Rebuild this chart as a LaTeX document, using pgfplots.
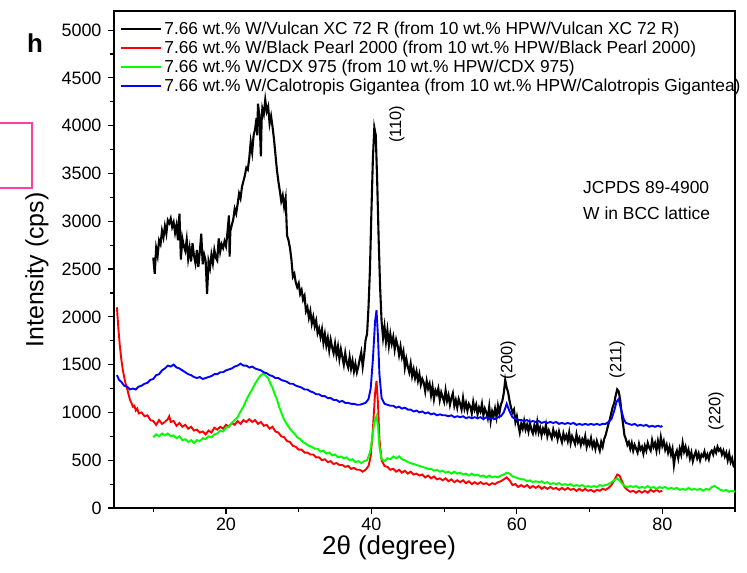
\documentclass[border=0pt]{standalone}
\usepackage{pgfplots}
\pgfplotsset{compat=1.18}
\usepackage{fontspec}
\setmainfont{Liberation Sans}
\definecolor{pinkbox}{RGB}{255,64,160}
\definecolor{xgreen}{RGB}{0,255,0}

\pgfplotstableread{
x y
10.0 2620
10.2 2450
10.4 2720
10.6 2640
10.8 2800
11.0 2760
11.2 2900
11.4 2830
11.6 2950
11.8 2870
12.0 3010
12.2 2980
12.4 3030
12.6 2940
12.8 2990
13.0 2880
13.2 2960
13.4 2800
13.6 3080
13.8 2600
14.0 2820
14.2 2740
14.4 2690
14.6 2810
14.8 2610
15.0 2720
15.2 2580
15.4 2770
15.6 2640
15.8 2560
16.0 2700
16.2 2520
16.4 2680
16.6 2870
16.8 2550
17.0 2650
17.2 2590
17.4 2240
17.6 2580
17.8 2510
18.0 2650
18.2 2560
18.4 2700
18.6 2620
18.8 2590
19.0 2820
19.2 2680
19.4 2760
19.6 2720
19.8 2790
20.0 2740
20.2 2880
20.4 3060
20.5 2630
20.6 2900
20.8 2960
21.0 3020
21.2 3130
21.4 3080
21.6 3180
21.8 3290
22.0 3240
22.2 3360
22.4 3420
22.6 3480
22.8 3560
23.0 3540
23.2 3660
23.4 3830
23.6 3720
23.8 3900
24.0 3960
24.2 4080
24.3 3900
24.4 4230
24.6 4100
24.8 3680
24.9 4050
25.0 4180
25.2 4120
25.4 4270
25.6 4150
25.8 4200
26.0 4020
26.2 4100
26.4 3990
26.6 3860
26.8 3700
27.0 3540
27.2 3420
27.4 3320
27.6 3210
27.8 3270
28.0 3150
28.2 3240
28.4 2850
28.6 2800
28.8 2720
29.0 2600
29.2 2420
29.4 2450
29.6 2360
29.8 2310
30.0 2350
30.2 2240
30.4 2280
30.6 2180
30.8 2220
31.0 2060
31.2 2100
31.4 1990
31.6 2060
31.8 1930
32.0 2000
32.2 1900
32.4 1960
32.6 1830
32.8 1880
33.0 1790
33.2 1870
33.4 1730
33.6 1820
33.8 1700
34.0 1780
34.2 1650
34.4 1760
34.6 1680
34.8 1620
35.0 1720
35.2 1600
35.4 1690
35.6 1560
35.8 1660
36.0 1580
36.2 1500
36.4 1620
36.6 1520
36.8 1470
37.0 1580
37.2 1460
37.4 1540
37.6 1430
37.8 1510
38.0 1420
38.2 1480
38.4 1560
38.6 1630
38.8 1480
39.0 1600
39.2 1760
39.4 1820
39.6 2100
39.8 2500
40.0 3100
40.2 3650
40.4 3980
40.6 3900
40.8 3400
41.0 2800
41.2 2300
41.4 1950
41.6 1780
41.8 1900
42.0 1740
42.2 1860
42.4 1700
42.6 1820
42.8 1720
43.0 1790
43.2 1660
43.4 1760
43.6 1700
43.8 1600
44.0 1690
44.2 1580
44.4 1640
44.6 1470
44.8 1560
45.0 1480
45.2 1420
45.4 1510
45.6 1380
45.8 1450
46.0 1360
46.2 1430
46.4 1330
46.6 1400
46.8 1290
47.0 1350
47.2 1310
47.4 1220
47.6 1330
47.8 1250
48.0 1300
48.2 1180
48.4 1270
48.6 1140
48.8 1230
49.0 1190
49.2 1250
49.4 1130
49.6 1210
49.8 1160
50.0 1110
50.2 1230
50.4 1120
50.6 1180
50.8 1080
51.0 1150
51.2 1200
51.4 1070
51.6 1130
51.8 1050
52.0 1140
52.2 1090
52.4 1030
52.6 1150
52.8 1040
53.0 1100
53.2 1020
53.4 1090
53.6 1060
53.8 990
54.0 1110
54.2 1030
54.4 1080
54.6 980
54.8 1050
55.0 1010
55.2 1090
55.4 970
55.6 1040
55.8 1000
56.0 940
56.2 1060
56.4 910
56.6 1010
56.8 960
57.0 1040
57.2 950
57.4 1070
57.6 990
57.8 1080
58.0 1120
58.2 1200
58.4 1340
58.6 1260
58.8 1210
59.0 1120
59.2 1050
59.4 1000
59.6 1030
59.8 900
60.0 960
60.2 870
60.4 790
60.6 880
60.8 830
61.0 910
61.2 820
61.4 870
61.6 800
61.8 890
62.0 820
62.2 780
62.4 860
62.6 800
62.8 900
63.0 790
63.2 840
63.4 760
63.6 830
63.8 790
64.0 870
64.2 750
64.4 810
64.6 770
64.8 730
65.0 820
65.2 760
65.4 790
65.6 720
65.8 800
66.0 740
66.2 690
66.4 780
66.6 720
66.8 760
67.0 700
67.2 790
67.4 680
67.6 750
67.8 710
68.0 670
68.2 770
68.4 690
68.6 730
68.8 660
69.0 720
69.2 680
69.4 750
69.6 640
69.8 700
70.0 660
70.2 730
70.4 640
70.6 690
70.8 620
71.0 700
71.2 650
71.4 600
71.6 690
71.8 640
72.0 720
72.2 760
72.4 820
72.6 880
72.8 930
73.0 1000
73.2 1060
73.4 1100
73.6 1180
73.8 1240
74.0 1220
74.2 1140
74.4 1000
74.6 880
74.8 760
75.0 720
75.2 660
75.4 690
75.6 620
75.8 680
76.0 600
76.2 660
76.4 620
76.6 580
76.8 670
77.0 610
77.2 640
77.4 570
77.6 650
77.8 600
78.0 680
78.2 630
78.4 600
78.6 710
78.8 640
79.0 680
79.2 600
79.4 700
79.6 620
79.8 740
80.0 650
80.2 700
80.4 610
80.6 660
80.8 580
81.0 640
81.2 560
81.4 620
81.6 450
81.8 560
82.0 600
82.2 520
82.4 620
82.6 560
82.8 680
83.0 590
83.2 640
83.4 560
83.6 610
83.8 520
84.0 580
84.2 490
84.4 550
84.6 590
84.8 520
85.0 570
85.2 500
85.4 560
85.6 540
85.8 590
86.0 520
86.2 560
86.4 510
86.6 580
86.8 600
87.0 560
87.2 620
87.4 580
87.6 640
87.8 600
88.0 620
88.2 560
88.4 600
88.6 540
88.8 580
89.0 500
89.2 570
89.4 480
89.6 520
89.8 440
90.0 420
}\vulcan

\pgfplotstableread{
x y
5.0 2100
5.2 1880
5.4 1700
5.6 1560
5.8 1450
6.0 1370
6.2 1300
6.4 1250
6.6 1190
6.8 1130
7.0 1100
7.2 1060
7.4 1070
7.6 1020
7.8 1040
8.0 990
8.4 1000
8.8 960
9.2 970
9.6 920
10.0 910
10.4 870
10.8 920
11.2 880
11.6 900
12.0 930
12.2 960
12.4 900
12.8 910
13.2 860
13.6 890
14.0 850
14.4 870
14.8 830
15.2 850
15.6 810
16.0 820
16.4 790
16.8 800
17.2 770
17.6 810
18.0 790
18.4 840
18.8 820
19.2 850
19.6 830
20.0 870
20.4 850
20.8 890
21.2 870
21.6 910
22.0 880
22.4 920
22.8 900
23.2 930
23.6 900
24.0 920
24.4 880
24.8 900
25.2 860
25.6 870
26.0 830
26.4 850
26.8 800
27.2 790
27.6 750
28.0 740
28.4 700
28.8 690
29.2 650
29.6 640
30.0 610
30.4 610
30.8 580
31.2 580
31.6 560
32.0 560
32.4 530
32.8 530
33.2 500
33.6 510
34.0 480
34.4 490
34.8 460
35.2 470
35.6 450
36.0 450
36.4 430
36.8 440
37.2 410
37.6 420
38.0 400
38.4 400
38.8 380
39.2 400
39.6 440
39.9 540
40.2 820
40.5 1200
40.7 1330
40.9 1100
41.1 720
41.4 500
41.8 440
42.2 430
42.6 400
43.0 410
43.4 380
43.8 400
44.2 370
44.6 390
45.0 360
45.4 380
45.8 350
46.2 360
46.6 340
47.0 350
47.4 320
47.8 340
48.2 310
48.6 330
49.0 300
49.4 310
49.8 290
50.2 310
50.6 280
51.0 300
51.4 270
51.8 290
52.2 270
52.6 290
53.0 260
53.4 280
53.8 250
54.2 270
54.6 250
55.0 270
55.4 250
55.8 260
56.2 240
56.6 260
57.0 250
57.4 270
57.8 280
58.2 300
58.6 320
59.0 290
59.4 240
59.8 250
60.2 220
60.6 240
61.0 220
61.4 240
61.8 210
62.2 230
62.6 210
63.0 230
63.4 200
63.8 220
64.2 200
64.6 220
65.0 200
65.4 210
65.8 190
66.2 210
66.6 190
67.0 210
67.4 190
67.8 200
68.2 180
68.6 200
69.0 180
69.4 200
69.8 180
70.2 190
70.6 170
71.0 190
71.4 180
71.8 200
72.2 190
72.6 210
73.0 240
73.4 290
73.8 350
74.1 340
74.4 290
74.8 220
75.2 190
75.6 170
76.0 180
76.4 160
76.8 180
77.2 160
77.6 180
78.0 160
78.4 190
78.8 170
79.2 190
79.6 170
80.0 180
}\pearl

\pgfplotstableread{
x y
10.0 740
10.4 770
10.8 750
11.2 780
11.6 760
12.0 780
12.4 750
12.8 760
13.2 730
13.6 750
14.0 710
14.4 720
14.8 690
15.2 710
15.6 680
16.0 710
16.4 700
16.8 730
17.2 720
17.6 750
18.0 740
18.4 770
18.8 780
19.2 810
19.6 800
20.0 840
20.4 850
20.8 890
21.2 920
21.6 950
22.0 1010
22.4 1060
22.8 1130
23.2 1190
23.6 1240
24.0 1300
24.4 1350
24.8 1390
25.2 1410
25.5 1380
25.8 1360
26.1 1300
26.4 1260
26.7 1190
27.0 1140
27.3 1060
27.6 1000
27.9 940
28.2 900
28.6 850
29.0 810
29.4 780
29.8 740
30.2 720
30.6 690
31.0 670
31.4 650
31.8 640
32.2 620
32.6 620
33.0 590
33.4 600
33.8 570
34.2 580
34.6 550
35.0 560
35.4 530
35.8 540
36.2 520
36.6 530
37.0 500
37.4 510
37.8 480
38.2 490
38.6 470
39.0 490
39.4 500
39.8 580
40.1 720
40.4 900
40.7 960
40.9 860
41.1 640
41.4 510
41.8 490
42.2 520
42.6 510
43.0 540
43.4 520
43.8 540
44.2 510
44.6 500
45.0 480
45.4 470
45.8 460
46.2 450
46.6 440
47.0 430
47.4 420
47.8 410
48.2 410
48.6 390
49.0 400
49.4 380
49.8 390
50.2 370
50.6 380
51.0 360
51.4 380
51.8 360
52.2 370
52.6 350
53.0 360
53.4 340
53.8 360
54.2 340
54.6 350
55.0 330
55.4 340
55.8 320
56.2 340
56.6 320
57.0 330
57.4 320
57.8 340
58.2 350
58.6 370
59.0 360
59.4 330
59.8 320
60.2 310
60.6 300
61.0 300
61.4 280
61.8 290
62.2 270
62.6 280
63.0 270
63.4 280
63.8 260
64.2 270
64.6 250
65.0 260
65.4 250
65.8 260
66.2 240
66.6 250
67.0 240
67.4 250
67.8 230
68.2 240
68.6 230
69.0 240
69.4 220
69.8 230
70.2 220
70.6 230
71.0 220
71.4 240
71.8 230
72.2 240
72.6 250
73.0 270
73.4 290
73.8 310
74.1 290
74.4 260
74.8 230
75.2 220
75.6 230
76.0 220
76.4 230
76.8 210
77.2 220
77.6 210
78.0 230
78.4 210
78.8 220
79.2 200
79.6 220
80.0 210
80.4 220
80.8 200
81.2 210
81.6 200
82.0 210
82.4 190
82.8 200
83.2 190
83.6 210
84.0 190
84.4 200
84.8 190
85.2 200
85.6 180
86.0 200
86.4 190
86.8 220
87.2 230
87.6 210
88.0 190
88.4 180
88.8 190
89.2 170
89.6 180
90.0 170
}\cdx

\pgfplotstableread{
x y
5.0 1390
5.3 1340
5.6 1320
6.0 1280
6.4 1270
6.8 1240
7.2 1250
7.6 1240
8.0 1270
8.4 1280
8.8 1300
9.2 1310
9.6 1340
10.0 1350
10.4 1390
10.8 1400
11.2 1440
11.6 1460
12.0 1490
12.4 1480
12.8 1500
13.2 1470
13.6 1460
14.0 1440
14.4 1420
14.8 1400
15.2 1390
15.6 1370
16.0 1360
16.4 1370
16.8 1350
17.2 1360
17.6 1370
18.0 1380
18.4 1400
18.8 1400
19.2 1420
19.6 1420
20.0 1440
20.4 1450
20.8 1460
21.2 1480
21.6 1490
22.0 1510
22.4 1490
22.8 1490
23.2 1470
23.6 1480
24.0 1460
24.4 1450
24.8 1440
25.2 1420
25.6 1410
26.0 1390
26.4 1380
26.8 1360
27.2 1360
27.6 1340
28.0 1330
28.4 1320
28.8 1300
29.2 1300
29.6 1280
30.0 1270
30.4 1260
30.8 1240
31.2 1240
31.6 1220
32.0 1210
32.4 1190
32.8 1190
33.2 1170
33.6 1170
34.0 1150
34.4 1150
34.8 1130
35.2 1130
35.6 1110
36.0 1120
36.4 1100
36.8 1100
37.2 1090
37.6 1090
38.0 1080
38.4 1080
38.8 1090
39.2 1100
39.6 1140
39.9 1250
40.2 1550
40.5 1950
40.7 2070
40.9 1800
41.1 1400
41.4 1150
41.8 1090
42.2 1080
42.6 1070
43.0 1070
43.4 1050
43.8 1060
44.2 1040
44.6 1050
45.0 1030
45.4 1030
45.8 1010
46.2 1020
46.6 1000
47.0 1010
47.4 990
47.8 1000
48.2 980
48.6 990
49.0 970
49.4 980
49.8 970
50.2 970
50.6 960
51.0 970
51.4 950
51.8 960
52.2 950
52.6 960
53.0 940
53.4 950
53.8 940
54.2 950
54.6 940
55.0 950
55.4 930
55.8 950
56.2 930
56.6 940
57.0 930
57.4 950
57.8 960
58.2 1000
58.6 1090
59.0 1010
59.4 950
59.8 930
60.2 920
60.6 920
61.0 910
61.4 920
61.8 900
62.2 910
62.6 900
63.0 910
63.4 890
63.8 900
64.2 890
64.6 900
65.0 890
65.4 900
65.8 880
66.2 890
66.6 880
67.0 890
67.4 880
67.8 890
68.2 870
68.6 880
69.0 870
69.4 880
69.8 870
70.2 880
70.6 870
71.0 880
71.4 870
71.8 880
72.2 880
72.6 900
73.0 930
73.4 1020
73.7 1110
74.0 1140
74.3 1040
74.7 930
75.0 890
75.4 880
75.8 870
76.2 880
76.6 860
77.0 870
77.4 860
77.8 870
78.2 850
78.6 860
79.0 850
79.4 860
79.8 850
80.0 860
}\calo

\begin{document}
\begin{tikzpicture}
\useasboundingbox (0,0) rectangle (747bp,573bp);
\node[font=\fontsize{26}{30}\selectfont\bfseries] at (35bp,530bp) {h};
\draw[pinkbox, line width=1.5bp] (0,450bp) -- (32bp,450bp) -- (32bp,385bp) -- (0,385bp);
\begin{axis}[
  at={(114bp,65bp)}, anchor=south west,
  width=621bp, height=497bp, scale only axis,
  xmin=4.6, xmax=90, ymin=0, ymax=5200,
  xtick={20,40,60,80}, minor xtick={10,30,50,70,90},
  ytick={0,500,...,5000}, minor ytick={250,750,...,4750},
  tick pos=left, tick align=outside,
  major tick length=6bp, minor tick length=4bp,
  every tick/.style={black, line width=1.2bp},
  axis line style={line width=1.5bp},
  scaled ticks=false,
  /pgf/number format/1000 sep={},
  /pgf/number format/assume math mode=true,
  ticklabel style={font=\fontsize{18}{21}\selectfont},
  yticklabel style={xshift=-3bp},
  xlabel={2θ (degree)}, ylabel={Intensity (cps)},
  xlabel style={font=\fontsize{26}{30}\selectfont, at={(axis description cs:0.443,-0.0805)}, anchor=center},
  ylabel style={font=\fontsize{25}{29}\selectfont, at={(axis description cs:-0.124,0.479)}, anchor=center},
  legend style={draw=none, fill=none, at={(axis description cs:0,1)}, anchor=north west, xshift=3bp, yshift=-6bp,
    font=\fontsize{17.4}{20}\selectfont, nodes={inner ysep=2.5bp}},
  legend cell align=left,
  legend image code/.code={\draw[#1, line width=2.2bp] (0bp,0bp) -- (40bp,0bp);},
]
\addplot[black, line width=2.1bp] table[x=x,y=y] {\vulcan};
\addlegendentry{7.66 wt.\% W/Vulcan XC 72 R (from 10 wt.\% HPW/Vulcan XC 72 R)}
\addplot[red, line width=1.9bp] table[x=x,y=y] {\pearl};
\addlegendentry{7.66 wt.\% W/Black Pearl 2000 (from 10 wt.\% HPW/Black Pearl 2000)}
\addplot[xgreen, line width=1.9bp] table[x=x,y=y] {\cdx};
\addlegendentry{7.66 wt.\% W/CDX 975 (from 10 wt.\% HPW/CDX 975)}
\addplot[blue, line width=1.9bp] table[x=x,y=y] {\calo};
\addlegendentry{7.66 wt.\% W/Calotropis Gigantea (from 10 wt.\% HPW/Calotropis Gigantea)}
\node[rotate=90, font=\fontsize{16.5}{20}\selectfont] at (axis cs:43.5,4015) {(110)};
\node[rotate=90, font=\fontsize{16.5}{20}\selectfont] at (axis cs:58.8,1550) {(200)};
\node[rotate=90, font=\fontsize{16.5}{20}\selectfont] at (axis cs:73.8,1550) {(211)};
\node[rotate=90, font=\fontsize{16.5}{20}\selectfont] at (axis cs:87.4,1015) {(220)};
\node[anchor=west, align=left, font=\fontsize{17.5}{26}\selectfont, inner sep=0pt] at (axis cs:69.1,3220) {JCPDS 89-4900\\W in BCC lattice};
\end{axis}
\end{tikzpicture}
\end{document}
